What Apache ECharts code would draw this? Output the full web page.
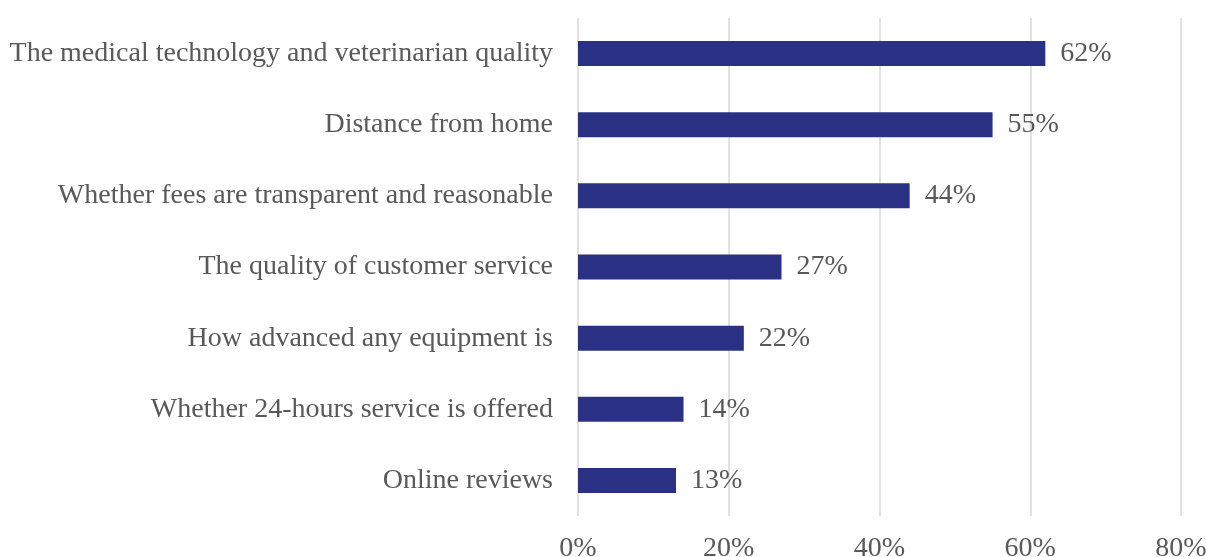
<!DOCTYPE html>
<html>
<head>
<meta charset="utf-8">
<script src="https://cdn.jsdelivr.net/npm/echarts@6/dist/echarts.min.js"></script>
<style>
  html, body { margin: 0; padding: 0; background: #ffffff; }
  #chart { width: 1206px; height: 557px; }
</style>
</head>
<body>
<div id="chart"></div>
<script>
// Factors considered when choosing a veterinary clinic (share of respondents, %)
const categories = [
  "The medical technology and veterinarian quality",
  "Distance from home",
  "Whether fees are transparent and reasonable",
  "The quality of customer service",
  "How advanced any equipment is",
  "Whether 24-hours service is offered",
  "Online reviews"
];
const shares = [62, 55, 44, 27, 22, 14, 13];
const tickValues = [0, 20, 40, 60, 80];

const textColor = "#595959";
const fontFamily = "'Liberation Serif', 'Times New Roman', serif";
const fontSize = 28;

const chart = echarts.init(document.getElementById("chart"), null, { renderer: "canvas" });

chart.setOption({
  animation: false,
  backgroundColor: "#ffffff",
  grid: {
    left: 578, right: 25, top: 18, bottom: 41,
    containLabel: false,
    outerBoundsMode: "none"
  },
  xAxis: {
    type: "value",
    min: tickValues[0],
    max: tickValues[tickValues.length - 1],
    interval: tickValues[1] - tickValues[0],
    axisLine: { show: false },
    axisTick: { show: false },
    splitLine: { show: true, lineStyle: { color: "#d9d9d9", width: 1.5 } },
    axisLabel: {
      formatter: v => v + "%",
      color: textColor,
      fontFamily: fontFamily,
      fontSize: fontSize,
      margin: 19
    }
  },
  yAxis: {
    type: "category",
    data: categories,
    inverse: true,
    axisLine: { show: false },
    axisTick: { show: false },
    splitLine: { show: false },
    axisLabel: {
      color: textColor,
      fontFamily: fontFamily,
      fontSize: fontSize,
      margin: 25
    }
  },
  series: [{
    type: "bar",
    data: shares,
    barWidth: 25,
    itemStyle: { color: "#2a3185" },
    label: {
      show: true,
      position: "right",
      distance: 15,
      formatter: p => p.value + "%",
      color: textColor,
      fontFamily: fontFamily,
      fontSize: fontSize
    }
  }]
});
</script>
</body>
</html>
